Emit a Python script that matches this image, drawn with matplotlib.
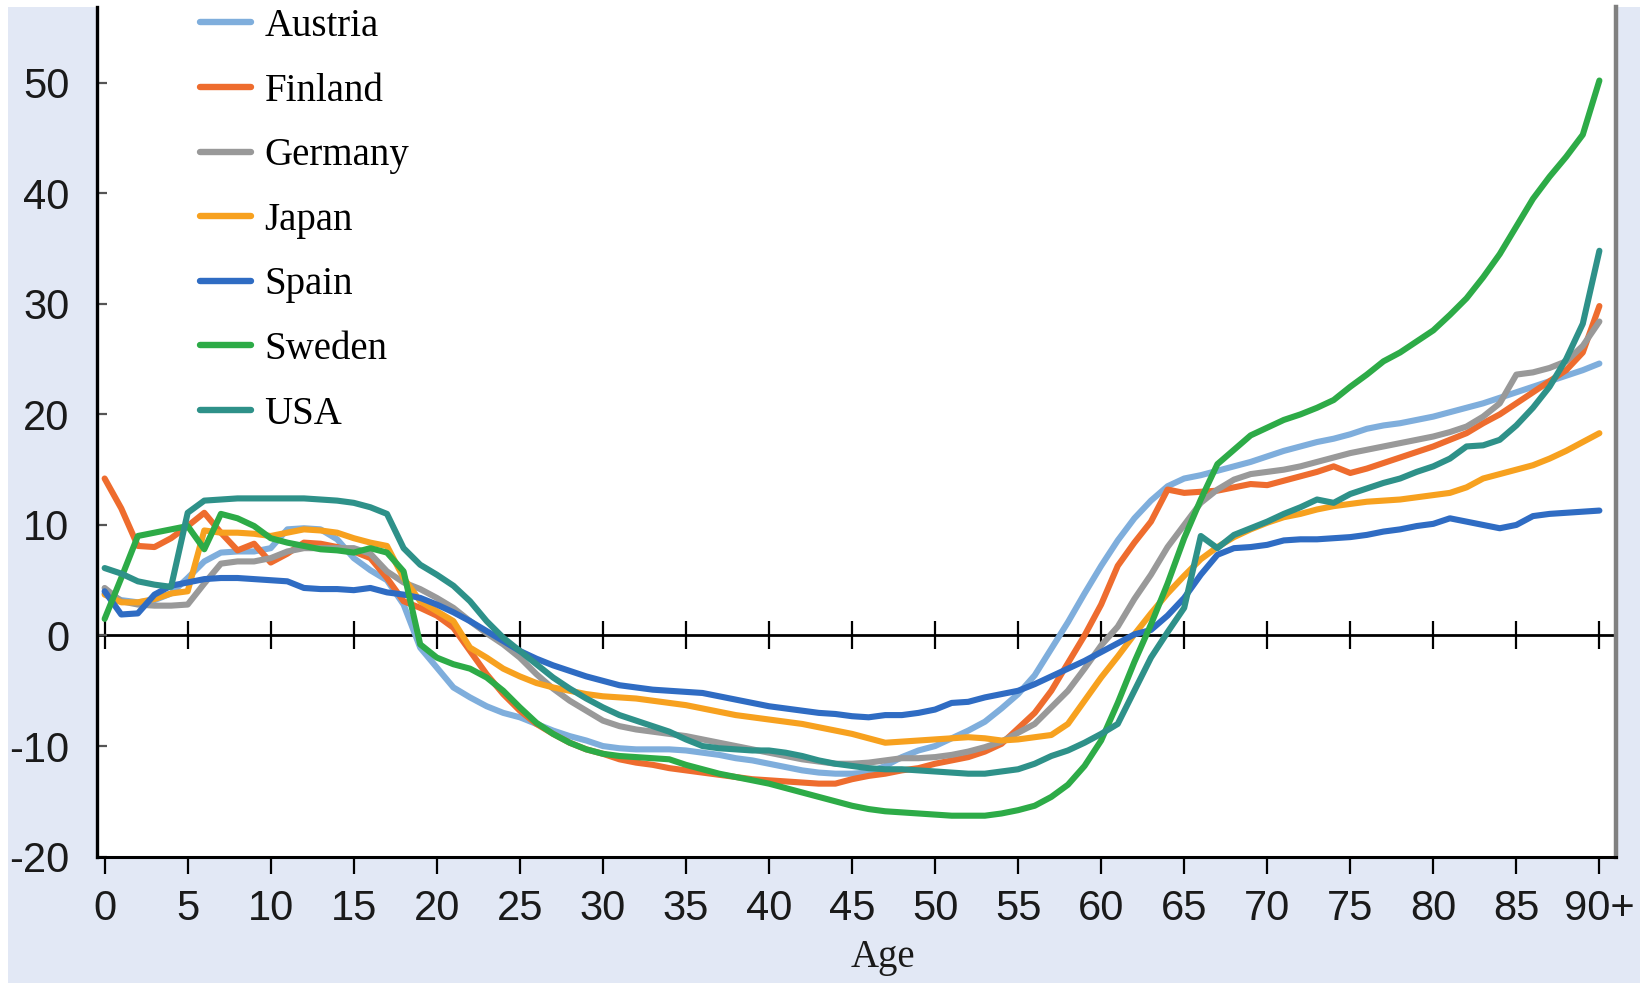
import matplotlib.pyplot as plt
from matplotlib.patches import Rectangle

# Data, ages 0..90+
ages = list(range(91))

austria = [3.8, 3.2, 3.0, 3.2, 3.8, 5.2, 6.7, 7.5, 7.6, 7.6,
           7.9, 9.6, 9.7, 9.6, 8.7, 7.0, 5.9, 5.0, 2.8, -1.1,
           -2.9, -4.7, -5.6, -6.4, -7.0, -7.4, -8.0, -8.6, -9.1, -9.5,
           -10.0, -10.2, -10.3, -10.3, -10.3, -10.4, -10.6, -10.8, -11.1, -11.3,
           -11.6, -11.9, -12.2, -12.4, -12.5, -12.5, -12.4, -11.8, -11.0, -10.4,
           -10.0, -9.3, -8.6, -7.8, -6.6, -5.3, -3.6, -1.2, 1.2, 3.8,
           6.3, 8.6, 10.6, 12.2, 13.5, 14.2, 14.5, 14.9, 15.3, 15.7,
           16.2, 16.7, 17.1, 17.5, 17.8, 18.2, 18.7, 19.0, 19.2, 19.5,
           19.8, 20.2, 20.6, 21.0, 21.5, 22.0, 22.5, 23.0, 23.5, 24.0,
           24.6]

finland = [14.2, 11.5, 8.1, 8.0, 8.8, 9.9, 11.1, 9.3, 7.7, 8.3,
           6.6, 7.4, 8.4, 8.3, 8.0, 7.6, 7.0, 5.2, 3.1, 2.5,
           1.8, 0.7, -1.4, -3.5, -5.3, -6.8, -8.0, -8.9, -9.7, -10.3,
           -10.7, -11.2, -11.5, -11.7, -12.0, -12.2, -12.4, -12.6, -12.8, -13.0,
           -13.1, -13.2, -13.3, -13.4, -13.4, -13.0, -12.7, -12.5, -12.2, -12.0,
           -11.6, -11.3, -11.0, -10.5, -9.8, -8.4, -7.0, -5.0, -2.5, 0.0,
           2.8, 6.3, 8.4, 10.3, 13.2, 12.9, 13.0, 13.1, 13.4, 13.7,
           13.6, 14.0, 14.4, 14.8, 15.3, 14.7, 15.1, 15.6, 16.1, 16.6,
           17.1, 17.7, 18.3, 19.2, 20.0, 21.0, 22.0, 23.0, 24.0, 25.6,
           29.8]

germany = [4.3, 3.1, 2.8, 2.7, 2.7, 2.8, 4.7, 6.5, 6.7, 6.7,
           7.0, 7.6, 7.9, 7.9, 7.9, 7.9, 7.4, 5.8, 4.8, 4.2,
           3.4, 2.5, 1.3, 0.2, -0.8, -2.0, -3.5, -4.8, -5.9, -6.8,
           -7.7, -8.2, -8.5, -8.7, -8.9, -9.1, -9.4, -9.7, -10.0, -10.3,
           -10.6, -10.9, -11.2, -11.4, -11.6, -11.6, -11.5, -11.3, -11.1, -11.1,
           -11.0, -10.8, -10.5, -10.1, -9.6, -8.8, -8.0, -6.5, -5.0, -3.0,
           -0.9, 0.8, 3.3, 5.5, 8.0, 10.0, 12.0, 13.2, 14.1, 14.6,
           14.8, 15.0, 15.3, 15.7, 16.1, 16.5, 16.8, 17.1, 17.4, 17.7,
           18.0, 18.4, 18.9, 19.8, 21.0, 23.6, 23.8, 24.2, 24.8, 26.2,
           28.4]

japan = [3.7, 3.0, 3.0, 3.3, 3.8, 4.0, 9.5, 9.3, 9.3, 9.2,
         9.0, 9.3, 9.6, 9.5, 9.3, 8.8, 8.4, 8.1, 5.2, 3.1,
         2.2, 1.3, -1.1, -2.0, -3.0, -3.7, -4.3, -4.7, -5.0, -5.3,
         -5.5, -5.6, -5.7, -5.9, -6.1, -6.3, -6.6, -6.9, -7.2, -7.4,
         -7.6, -7.8, -8.0, -8.3, -8.6, -8.9, -9.3, -9.7, -9.6, -9.5,
         -9.4, -9.3, -9.2, -9.3, -9.5, -9.4, -9.2, -9.0, -8.0, -5.9,
         -3.8, -1.9, 0.1, 2.0, 3.8, 5.4, 6.9, 8.0, 8.9, 9.6,
         10.2, 10.7, 11.0, 11.4, 11.7, 11.9, 12.1, 12.2, 12.3, 12.5,
         12.7, 12.9, 13.4, 14.2, 14.6, 15.0, 15.4, 16.0, 16.7, 17.5,
         18.3]

spain = [4.0, 1.9, 2.0, 3.7, 4.5, 4.8, 5.1, 5.2, 5.2, 5.1,
         5.0, 4.9, 4.3, 4.2, 4.2, 4.1, 4.3, 3.9, 3.7, 3.4,
         2.8, 2.1, 1.3, 0.4, -0.5, -1.4, -2.1, -2.7, -3.2, -3.7,
         -4.1, -4.5, -4.7, -4.9, -5.0, -5.1, -5.2, -5.5, -5.8, -6.1,
         -6.4, -6.6, -6.8, -7.0, -7.1, -7.3, -7.4, -7.2, -7.2, -7.0,
         -6.7, -6.1, -6.0, -5.6, -5.3, -5.0, -4.4, -3.7, -3.0, -2.3,
         -1.5, -0.7, 0.1, 0.5, 1.8, 3.4, 5.5, 7.3, 7.9, 8.0,
         8.2, 8.6, 8.7, 8.7, 8.8, 8.9, 9.1, 9.4, 9.6, 9.9,
         10.1, 10.6, 10.3, 10.0, 9.7, 10.0, 10.8, 11.0, 11.1, 11.2,
         11.3]

sweden = [1.5, 5.2, 9.0, 9.3, 9.6, 9.9, 7.8, 11.0, 10.6, 9.9,
          8.8, 8.4, 8.1, 7.8, 7.7, 7.5, 7.9, 7.5, 5.8, -0.8,
          -2.0, -2.6, -3.0, -3.8, -5.0, -6.5, -7.9, -8.9, -9.7, -10.3,
          -10.7, -10.9, -11.0, -11.1, -11.2, -11.7, -12.1, -12.5, -12.8, -13.1,
          -13.4, -13.8, -14.2, -14.6, -15.0, -15.4, -15.7, -15.9, -16.0, -16.1,
          -16.2, -16.3, -16.3, -16.3, -16.1, -15.8, -15.4, -14.6, -13.5, -11.8,
          -9.5, -6.1, -2.4, 1.0, 4.7, 8.8, 12.3, 15.5, 16.8, 18.1,
          18.8, 19.5, 20.0, 20.6, 21.3, 22.5, 23.6, 24.8, 25.6, 26.6,
          27.6, 29.0, 30.5, 32.4, 34.5, 37.0, 39.5, 41.5, 43.3, 45.3,
          50.2]

usa = [6.1, 5.6, 4.9, 4.6, 4.4, 11.1, 12.2, 12.3, 12.4, 12.4,
       12.4, 12.4, 12.4, 12.3, 12.2, 12.0, 11.6, 11.0, 7.9, 6.4,
       5.5, 4.5, 3.1, 1.3, -0.2, -1.4, -2.6, -3.8, -4.8, -5.7,
       -6.5, -7.2, -7.7, -8.2, -8.7, -9.4, -10.0, -10.2, -10.3, -10.4,
       -10.4, -10.6, -10.9, -11.3, -11.6, -11.8, -12.0, -12.1, -12.1, -12.2,
       -12.3, -12.4, -12.5, -12.5, -12.3, -12.1, -11.6, -10.9, -10.4, -9.7,
       -8.9, -8.0, -5.0, -2.0, 0.3, 2.5, 9.0, 7.9, 9.1, 9.7,
       10.3, 11.0, 11.6, 12.3, 12.0, 12.8, 13.3, 13.8, 14.2, 14.8,
       15.3, 16.0, 17.1, 17.2, 17.7, 19.0, 20.6, 22.5, 25.0, 28.2,
       34.8]

names = ["Austria", "Finland", "Germany", "Japan", "Spain", "Sweden", "USA"]
values = [austria, finland, germany, japan, spain, sweden, usa]
colors = ["#7FAEDC", "#EE6C2E", "#999999", "#F7A11F", "#2F6CC3", "#2DAB47", "#2E9189"]

x_ticks = list(range(0, 91, 5))
x_labels = [str(t) for t in x_ticks[:-1]] + ["90+"]
y_ticks = [-20, -10, 0, 10, 20, 30, 40, 50]
y_min, y_max = -20, 56.85

W, H = 1642, 983
BG = "#E2E8F5"
sans = ["Liberation Sans Narrow", "Liberation Sans", "DejaVu Sans"]
serif = ["Liberation Serif", "DejaVu Serif"]

fig = plt.figure(figsize=(W / 100, H / 100), dpi=100)
fig.patch.set_facecolor("white")
fig.patches.append(Rectangle((8 / W, 0), (1640 - 8) / W, 976 / H,
                             transform=fig.transFigure, facecolor=BG,
                             edgecolor="none", zorder=-10))

ax = fig.add_axes([97 / W, 126.4 / H, (1616 - 97) / W, (976 - 126.4) / H])
ax.set_facecolor("white")

for name, vals, col in zip(names, values, colors):
    ax.plot(ages, vals, color=col, lw=4.4, label=name, solid_joinstyle="round",
            solid_capstyle="round", zorder=3)

ax.set_xlim(-0.46, 91.0)
ax.set_ylim(y_min, y_max)

ax.spines["top"].set_visible(False)
ax.spines["left"].set_linewidth(2.4)
ax.spines["bottom"].set_linewidth(2.2)
ax.spines["right"].set_linewidth(3.2)
ax.spines["right"].set_color("#808080")

ax.set_xticks(x_ticks)
ax.set_xticklabels(x_labels, family=sans, fontsize=30, color="#1a1a1a")
ax.tick_params(axis="x", direction="out", length=12, width=1.6, pad=11)

ax.set_yticks(y_ticks)
ax.set_yticklabels([str(v) for v in y_ticks], family=sans, fontsize=30,
                   color="#1a1a1a")
ax.tick_params(axis="y", direction="in", length=7, width=1.6, color="#555555",
               pad=20, right=False)

# zero line with crossing tick marks
zero_pos = (0 - y_min) / (y_max - y_min)
zax = ax.secondary_xaxis(zero_pos)
zax.set_xticks(x_ticks)
zax.tick_params(axis="x", direction="inout", length=20, width=1.6,
                labelbottom=False, labeltop=False)
zax.spines["bottom"].set_linewidth(2)
zax.spines["top"].set_linewidth(2)

ax.set_xlabel("Age", family=serif, fontsize=28, color="#1a1a1a")
ax.xaxis.label.set_va("center")
ax.xaxis.set_label_coords((883 - 97) / (1616 - 97), -(958 - 856.6) / (856.6 - 7))

leg = ax.legend(loc="upper left", bbox_to_anchor=(200 / W, 1 - 8 / H),
                bbox_transform=fig.transFigure, frameon=False,
                prop={"family": serif, "size": 28}, handlelength=1.3,
                handletextpad=0.36, labelspacing=0.71, borderpad=0,
                borderaxespad=0)
for line in leg.get_lines():
    line.set_linewidth(4.6)

fig.savefig("out.png", dpi=100, facecolor="white")
